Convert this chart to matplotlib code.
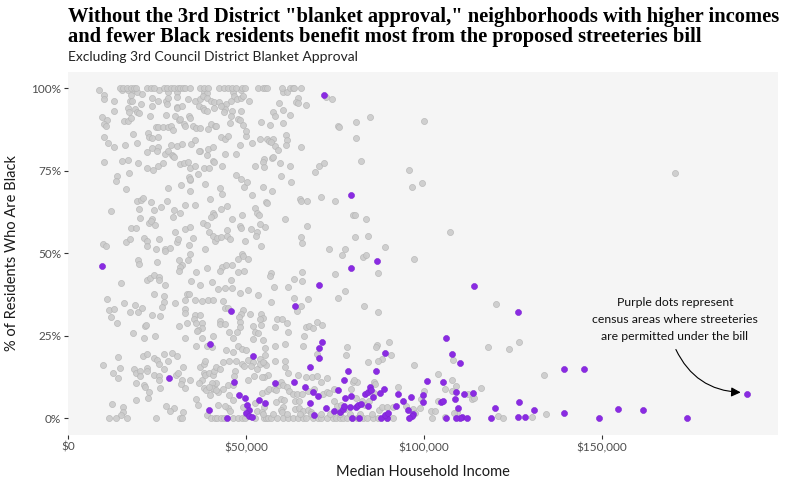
import matplotlib
import matplotlib.pyplot as plt
from matplotlib.ticker import FuncFormatter

plt.switch_backend('agg')

# median household income ($ thousands) / % Black residents

# census areas sitting at 100% Black
gray_full_inc = [14.6, 15.5, 16.5, 17.7, 18.5, 19.1, 22.1, 23.2, 24.2, 27.0, 27.7, 28.9, 29.8,
                 31.0, 31.6, 32.2, 32.9, 34.4, 37.1, 38.2, 39.4, 42.5, 43.8, 45.0, 46.2, 47.2,
                 49.0, 49.7, 53.4, 54.7, 55.3, 55.8, 60.2, 62.5, 63.1, 63.6, 65.5]

# census areas at 0%
gray_zero_inc = [11.6, 13.6, 16.7, 24.8, 31.5, 32.1, 40.1, 41.4, 41.9, 43.1, 43.9, 46.4, 47.8,
                 49.0, 49.8, 52.6, 55.1, 55.7, 56.3, 57.1, 58.6, 60.5, 61.9, 63.3, 64.7, 66.1,
                 67.0, 68.9, 70.3, 71.2, 72.8, 74.5, 75.4, 76.4, 77.3, 78.3, 79.7, 81.1, 82.9,
                 83.9, 85.7, 87.1, 89.5, 91.4, 102.3]

# census areas around 1.5%
gray_low_inc = [54.9, 57.7, 61.4, 65.2, 68.4, 71.2, 73.6, 76.4, 79.2, 82.0, 85.3]

gray_upper_left = [
    (8.8, 99.4), (10.2, 98.0), (15.3, 99.4), (16.9, 99.4), (18.2, 99.4), (19.4, 98.8), (20.7, 98.3),
    (25.5, 99.4), (28.2, 98.8), (30.7, 99.0), (38.2, 98.8), (39.0, 98.6), (46.4, 99.0), (48.6, 99.4),
    (10.2, 96.8), (13.0, 96.3), (17.6, 98.0), (17.4, 96.3), (17.9, 96.2), (20.5, 95.3), (23.5, 97.0),
    (25.4, 96.3), (27.5, 96.3), (28.2, 97.0), (27.9, 95.3), (30.7, 97.4), (30.5, 94.3), (33.8, 96.8),
    (35.8, 96.1), (37.1, 96.8), (38.0, 97.6), (39.0, 97.0), (40.1, 96.3), (41.1, 96.0), (42.5, 95.8),
    (43.6, 94.8), (44.4, 95.3), (45.7, 96.3), (46.6, 97.6), (47.4, 96.8), (48.5, 97.0), (49.2, 97.6),
    (50.9, 96.3), (13.0, 93.3), (16.9, 94.0), (17.0, 92.8), (18.8, 93.8), (19.5, 92.8), (20.0, 92.6),
    (23.5, 94.8), (27.5, 92.0), (30.7, 94.0), (31.9, 94.6), (36.9, 94.6), (37.8, 94.0), (38.2, 93.4),
    (39.0, 93.3), (41.1, 94.1), (44.1, 93.8), (43.9, 93.0), (46.0, 93.3), (48.6, 93.3), (42.9, 94.6),
    (9.6, 91.4), (11.0, 90.3), (10.1, 89.3), (10.7, 88.5), (15.8, 90.0), (16.9, 90.0), (17.6, 91.0),
    (23.0, 91.7), (24.7, 88.4), (25.4, 88.4), (26.8, 88.4), (28.2, 88.4), (28.9, 88.5), (29.6, 87.5),
    (30.2, 91.6), (31.2, 90.3), (31.6, 90.8), (32.6, 89.3), (32.8, 88.5), (34.1, 91.7), (34.3, 91.0),
    (35.2, 88.6), (36.1, 88.1), (37.1, 88.0), (39.2, 87.8), (40.3, 89.3), (41.3, 88.5), (41.7, 88.5),
    (45.5, 89.6), (45.8, 91.7), (47.8, 90.6), (48.3, 90.3), (49.2, 88.9),
    (18.2, 86.2), (10.2, 85.4), (11.3, 83.5), (13.0, 82.4), (16.1, 82.9), (19.3, 83.5), (22.6, 86.5),
    (22.8, 85.2), (23.5, 84.9), (25.4, 85.4), (23.5, 81.9), (25.2, 82.4), (28.9, 82.9), (30.7, 82.7),
    (31.9, 83.2), (34.5, 83.2), (35.7, 84.5), (37.1, 81.1), (39.4, 81.7), (40.8, 82.2), (43.1, 85.4),
    (44.1, 84.7), (45.0, 85.6), (48.4, 82.9), (49.9, 85.7), (50.0, 87.2), (51.6, 83.6),
    (10.2, 77.8), (15.3, 78.0), (16.9, 78.3), (19.7, 77.4), (22.1, 80.8), (22.1, 76.0), (24.0, 75.4),
    (24.9, 81.0), (25.4, 76.4), (26.8, 77.3), (27.2, 80.2), (28.2, 80.9), (29.1, 79.9), (29.6, 79.5),
    (29.9, 79.2), (31.4, 77.1), (32.6, 77.4), (33.8, 77.8), (34.4, 76.0), (35.7, 76.4), (36.9, 81.1),
    (38.3, 76.0), (39.0, 79.7), (39.6, 76.0), (40.8, 77.9), (41.0, 77.8), (43.4, 76.4), (44.1, 80.2),
    (47.2, 80.2), (52.5, 76.6),
    (13.9, 73.6), (13.4, 72.1), (17.2, 74.4), (16.4, 69.6), (28.2, 69.9), (31.7, 70.6), (34.0, 73.1),
    (34.2, 72.4), (34.4, 72.6), (36.4, 74.1), (38.6, 71.1), (42.8, 69.9), (43.3, 68.1), (34.3, 68.9),
    (47.2, 73.8), (48.6, 72.6), (49.5, 70.1), (50.4, 71.6), (51.8, 67.8),
    (12.1, 62.9), (19.5, 66.0), (20.5, 66.3), (21.1, 66.7), (20.0, 63.5), (23.4, 65.6), (24.2, 63.2),
    (26.0, 64.1), (27.7, 65.9), (29.9, 63.2), (31.6, 62.3), (33.0, 64.8), (35.8, 64.8), (39.9, 66.5),
    (40.7, 62.4), (41.0, 61.7), (40.3, 61.1), (42.9, 63.5), (44.8, 64.5), (46.1, 60.5), (48.8, 61.5),
    (52.6, 63.7), (53.0, 62.3), (53.7, 61.7),
    (20.3, 60.8), (17.7, 57.7), (19.2, 57.7), (22.8, 59.2), (23.6, 60.5), (23.4, 59.9), (24.5, 58.7),
    (29.6, 61.1), (30.0, 56.6), (32.8, 57.4), (34.3, 57.9), (38.0, 59.2), (39.1, 58.7), (39.7, 56.6),
    (44.6, 57.2), (48.3, 58.3), (48.6, 57.7), (51.4, 57.4), (53.0, 56.5),
    (9.7, 52.9), (10.8, 52.3), (16.2, 53.4), (17.5, 54.4), (21.3, 54.7), (22.1, 53.8), (22.3, 52.3),
    (25.6, 54.4), (24.8, 51.4), (27.3, 51.2), (28.8, 51.7), (30.5, 53.4), (31.0, 54.4), (33.9, 52.6),
    (35.2, 54.7), (38.6, 51.4), (41.2, 53.8), (40.8, 55.4), (42.0, 54.8), (42.9, 55.1), (44.8, 55.4),
    (45.5, 54.4), (49.8, 53.8), (52.7, 55.4),
]

gray_upper_mid = [
    (60.5, 99.0), (61.4, 99.0), (72.6, 97.4), (74.2, 96.8), (64.7, 97.1), (64.2, 95.9), (64.7, 95.6),
    (66.9, 95.0), (59.3, 95.6), (57.7, 92.9), (58.2, 91.7), (60.5, 93.5), (62.4, 92.0), (54.3, 89.9),
    (56.8, 88.9), (60.5, 89.6), (75.9, 88.6), (76.2, 88.2), (81.0, 89.9), (84.9, 91.4), (100.1, 90.2),
    (81.0, 85.0), (61.3, 85.9), (61.6, 84.4), (61.3, 82.9), (54.0, 84.7), (56.0, 84.7), (56.5, 84.1),
    (57.7, 84.7), (57.1, 83.8), (58.2, 82.6), (59.1, 81.4), (65.5, 82.3), (55.1, 78.7), (54.9, 77.7),
    (55.1, 76.2), (57.4, 79.0), (57.7, 79.1), (59.6, 77.4), (62.4, 76.5), (70.6, 76.5), (72.0, 77.4),
    (69.5, 74.7), (82.4, 78.0), (59.9, 73.5), (62.7, 71.7), (54.9, 70.2), (57.4, 69.0), (95.9, 75.3),
    (99.5, 71.4), (96.7, 70.2), (65.2, 66.5), (65.5, 65.9), (67.2, 65.9), (71.1, 67.1), (75.1, 65.9),
    (55.7, 65.6), (56.0, 65.3), (61.0, 60.5), (67.2, 58.3), (80.1, 61.7), (80.7, 61.7), (83.8, 60.5),
    (55.4, 58.0), (54.0, 59.0), (65.5, 55.0), (65.8, 53.2), (80.7, 55.0), (84.3, 55.3), (54.3, 52.3),
    (73.4, 51.4), (77.9, 51.4), (89.1, 52.0),
]

gray_lower_left = [
    (34.4, 49.9), (49.0, 49.9), (27.3, 50.8), (19.7, 48.1), (20.0, 46.8), (25.1, 47.5), (31.3, 48.1),
    (33.8, 48.1), (32.1, 46.5), (31.6, 45.9), (31.1, 44.7), (36.0, 44.4), (39.0, 45.6), (43.3, 45.9),
    (44.3, 46.5), (42.8, 44.7), (46.1, 46.5), (47.8, 44.4), (49.5, 44.7), (47.8, 48.4), (49.2, 49.3),
    (50.6, 48.4), (15.0, 41.1), (22.3, 42.0), (23.1, 42.6), (24.2, 43.5), (25.6, 42.9), (25.6, 42.0),
    (27.3, 40.5), (34.6, 41.7), (37.2, 40.5), (40.5, 41.4), (45.9, 42.0), (42.2, 39.3), (44.2, 39.6),
    (46.1, 39.6), (48.4, 38.1), (50.6, 39.0), (53.4, 37.5), (11.0, 36.2), (24.2, 37.8), (27.0, 37.1),
    (27.0, 35.3), (30.1, 35.0), (33.5, 37.8), (34.1, 37.8), (33.0, 35.9), (35.8, 35.9), (37.7, 35.6),
    (39.4, 35.9), (40.8, 35.9), (43.6, 35.6), (15.6, 35.0), (18.7, 34.4), (11.6, 32.9), (13.0, 33.2),
    (17.3, 32.3), (19.8, 32.3), (20.7, 33.5), (12.2, 30.8), (23.7, 31.4), (25.9, 31.1), (26.5, 33.8),
    (33.0, 33.2), (33.0, 32.0), (35.8, 31.4), (37.2, 31.4), (35.5, 30.2), (36.0, 29.0), (44.2, 33.5),
    (45.0, 33.5), (49.2, 32.9), (51.2, 31.7), (48.6, 31.7), (48.1, 30.8), (42.8, 29.6), (42.8, 28.7),
    (44.2, 28.7), (48.4, 29.3), (48.4, 27.8), (13.7, 29.0), (31.3, 28.1), (33.5, 29.0), (37.7, 29.0),
    (37.7, 27.4), (36.6, 26.8), (36.3, 26.5), (21.7, 28.1), (22.0, 28.4), (18.3, 25.9), (21.4, 24.4),
    (24.5, 25.0), (33.0, 24.4), (37.7, 24.4), (40.8, 25.0), (45.3, 26.2), (46.4, 24.4), (47.5, 26.2),
    (52.0, 28.1), (52.6, 26.2), (53.4, 25.9), (52.0, 24.1), (36.0, 22.0), (39.0, 22.1), (40.5, 21.7),
    (44.3, 20.8), (47.8, 22.0), (49.0, 21.1), (50.0, 20.8), (46.4, 20.2), (21.2, 19.0), (22.3, 19.6),
    (24.2, 18.4), (25.1, 17.8), (25.6, 16.5), (27.0, 19.6), (28.2, 17.5), (29.3, 19.9), (30.7, 19.0),
    (14.1, 18.7), (9.9, 16.2), (12.7, 13.8), (14.7, 15.3), (14.1, 12.3), (18.6, 15.0), (19.2, 13.8),
    (20.3, 14.4), (20.3, 12.9), (22.3, 15.3), (22.3, 14.4), (24.2, 13.2), (25.6, 12.9), (25.6, 11.7),
    (25.9, 9.3), (27.0, 15.0), (30.4, 13.2), (31.0, 13.8), (32.4, 15.6), (32.1, 11.7), (33.0, 9.3),
    (31.8, 10.5), (34.3, 11.7), (37.2, 15.6), (38.1, 16.5), (38.4, 17.5), (38.3, 13.8), (37.7, 11.7),
    (38.6, 13.2), (36.9, 10.8), (38.1, 9.3), (38.9, 8.7), (39.7, 13.8), (40.8, 13.2), (41.1, 14.4),
    (41.7, 15.6), (42.8, 15.0), (43.6, 17.1), (45.3, 17.5), (47.2, 17.5), (47.0, 14.4), (46.7, 12.9),
    (49.0, 16.5), (49.5, 15.9), (50.6, 17.8), (52.0, 17.1), (51.5, 15.9), (53.0, 15.0), (52.3, 12.9),
    (50.6, 11.7), (19.2, 10.8), (21.4, 10.2), (21.7, 9.6), (22.8, 8.1), (22.6, 6.2), (19.2, 5.6),
    (12.4, 4.4), (15.5, 3.5), (15.5, 2.0), (15.0, 1.1), (27.6, 3.8), (29.9, 3.2), (28.7, 2.3),
    (32.4, 2.0), (36.1, 5.9), (36.4, 4.1), (40.0, 7.2), (40.8, 9.0), (41.1, 10.2), (41.6, 10.8),
    (40.5, 10.8), (40.5, 9.3), (39.7, 9.6), (43.6, 9.0), (45.0, 10.2), (46.4, 10.2), (45.3, 7.2),
    (42.1, 8.1), (41.5, 8.7), (46.4, 5.6), (45.0, 3.2), (45.6, 2.3), (42.2, 4.1), (44.2, 3.8),
    (49.2, 3.5), (52.6, 4.7), (53.2, 2.3), (39.0, 1.2),
]

gray_lower_mid = [
    (83.0, 49.0), (83.8, 49.6), (77.0, 49.6), (97.3, 48.4), (57.1, 44.1), (56.8, 43.2), (65.8, 44.4),
    (65.8, 41.7), (63.6, 42.3), (75.1, 43.8), (87.1, 44.1), (57.9, 39.7), (61.9, 39.7), (57.1, 35.3),
    (63.6, 36.5), (67.5, 36.2), (65.5, 34.1), (64.4, 32.6), (77.9, 38.7), (75.9, 36.5), (83.2, 34.1),
    (87.1, 32.3), (54.3, 31.7), (54.9, 30.5), (54.0, 30.2), (58.8, 30.2), (60.2, 30.2), (58.2, 27.8),
    (61.6, 29.0), (61.9, 26.2), (66.9, 27.8), (67.8, 28.1), (68.9, 27.4), (70.0, 29.3), (71.4, 28.4),
    (54.3, 28.4), (66.4, 25.0), (55.4, 21.4), (54.9, 23.8), (58.2, 22.0), (61.0, 22.5), (66.1, 22.0),
    (70.0, 19.6), (78.4, 21.7), (78.2, 19.3), (86.9, 22.3), (86.6, 21.7), (90.2, 23.2), (90.8, 19.3),
    (88.3, 18.1), (87.1, 17.5), (84.3, 17.2), (97.3, 16.2), (104.0, 13.5), (54.0, 18.1), (55.4, 19.3),
    (54.0, 16.5), (55.1, 16.8), (55.7, 16.2), (54.9, 17.1), (58.2, 17.5), (61.0, 17.5), (61.0, 15.6),
    (61.9, 13.8), (64.7, 13.2), (56.3, 13.2), (55.1, 12.6), (54.6, 12.6), (66.9, 12.6), (68.6, 12.6),
    (70.0, 12.9), (71.1, 11.1), (72.8, 12.3), (80.1, 11.1), (81.2, 11.1), (80.4, 11.7), (86.0, 11.1),
    (86.3, 10.5), (92.8, 9.6), (100.1, 8.4), (104.0, 5.3), (54.6, 7.8), (56.0, 8.4), (56.5, 9.0),
    (57.9, 9.0), (58.5, 8.7), (59.3, 10.2), (59.9, 11.1), (60.5, 10.2), (61.6, 9.6), (62.2, 8.4),
    (58.5, 5.0), (59.9, 5.9), (60.8, 5.6), (60.5, 3.5), (59.9, 2.6), (60.2, 2.0), (55.1, 3.5),
    (54.6, 2.0), (63.3, 7.5), (63.8, 5.3), (64.4, 7.5), (65.0, 5.3), (65.8, 7.5), (63.8, 2.9),
    (65.0, 3.2), (66.1, 2.3), (67.5, 2.6), (68.3, 2.0), (67.5, 8.4), (69.2, 9.0), (71.7, 7.5),
    (72.8, 8.1), (73.4, 7.8), (74.8, 9.0), (74.8, 5.3), (75.6, 3.8), (76.8, 4.1), (77.9, 2.9),
    (79.6, 9.0), (81.0, 6.2), (82.6, 5.3), (83.5, 4.1), (84.6, 5.3), (86.0, 7.8), (87.4, 2.6),
    (88.3, 3.5), (89.7, 3.5), (91.4, 3.5), (95.0, 3.8), (97.0, 2.9), (97.5, 1.7), (98.9, 3.2),
    (99.2, 5.9), (102.0, 2.3), (103.1, 2.3),
]

gray_right = [
    (170.6, 74.4), (107.4, 56.5), (120.3, 34.7), (118.1, 21.7), (124.0, 21.1), (126.8, 23.2),
    (108.2, 17.7), (108.0, 11.7), (106.0, 9.0), (109.1, 9.9), (108.0, 8.4), (116.1, 9.3),
    (112.5, 7.4), (113.6, 5.9), (114.2, 6.2), (133.8, 13.2), (109.4, 2.0), (108.5, 1.7),
    (106.0, 0.5), (120.9, 0.8), (122.3, 0.2), (130.4, 0.5), (134.4, 1.4),
]

# areas where streeteries are permitted
purple_points = [
    (72.0, 98.1), (79.6, 67.8), (9.6, 46.3), (45.9, 32.6), (40.0, 22.6), (52.1, 19.0), (28.5, 12.3),
    (46.7, 11.1), (48.1, 7.2), (49.8, 6.3), (50.4, 4.2), (39.7, 2.6), (50.9, 2.6), (50.0, 1.7),
    (50.8, 0.7), (51.7, 0.5), (44.8, 0.2), (53.8, 5.7), (55.4, 4.8),
    (86.9, 47.8), (79.6, 45.7), (70.6, 40.5), (63.9, 34.2), (71.5, 23.2), (70.6, 21.4), (70.6, 18.4),
    (89.2, 19.9), (68.1, 15.7), (78.8, 14.5), (86.6, 14.5), (58.3, 10.8), (63.6, 11.1), (77.6, 11.7),
    (101.0, 11.4), (66.7, 9.6), (68.9, 8.1), (70.3, 6.9), (76.0, 8.7), (77.9, 6.3), (79.6, 6.9),
    (83.5, 7.5), (84.4, 8.1), (84.9, 9.6), (85.2, 8.7), (87.8, 7.8), (88.9, 9.0), (85.8, 6.6),
    (92.8, 7.5), (96.5, 6.6), (94.2, 5.4), (99.8, 7.2), (99.8, 5.1), (92.3, 3.8), (95.6, 2.6),
    (97.0, 1.4), (96.7, 0.8), (95.9, 0.0), (68.1, 4.8), (72.6, 3.2), (74.8, 2.3), (76.5, 2.0),
    (77.4, 2.9), (77.6, 3.8), (79.3, 3.5), (81.0, 3.5), (81.6, 4.2), (82.4, 4.5), (84.4, 3.8),
    (69.2, 1.1), (79.9, 0.2), (81.9, 0.0), (88.0, 0.0), (89.7, 0.0), (89.2, 1.1), (90.0, 1.7),
    (114.2, 40.2), (126.3, 32.3), (106.3, 24.5), (108.0, 19.6), (110.2, 16.9), (139.5, 15.1),
    (145.1, 15.1), (105.5, 11.1), (109.1, 8.1), (108.8, 6.0), (111.4, 7.5), (113.9, 7.8),
    (104.9, 5.1), (105.5, 5.4), (126.8, 5.1), (109.7, 3.2), (120.1, 3.2), (131.0, 2.6),
    (154.4, 2.9), (161.7, 2.6), (139.5, 1.7), (110.8, 0.5), (110.2, 0.0), (106.3, 0.0),
    (109.1, 0.0), (112.2, 0.0), (118.9, 0.0), (126.3, 0.5), (128.5, 0.5), (149.3, 0.0),
    (174.0, 0.0), (190.9, 7.5),
]

title = ('Without the 3rd District "blanket approval," neighborhoods with higher incomes\n'
         'and fewer Black residents benefit most from the proposed streeteries bill')
subtitle = 'Excluding 3rd Council District Blanket Approval'
note = 'Purple dots represent\ncensus areas where streeteries\nare permitted under the bill'

gray_pairs = gray_upper_left + gray_upper_mid + gray_lower_left + gray_lower_mid + gray_right
gray_x = [p[0] for p in gray_pairs] + gray_full_inc + gray_zero_inc + gray_low_inc
gray_y = ([p[1] for p in gray_pairs] + [100.0] * len(gray_full_inc)
          + [0.0] * len(gray_zero_inc) + [1.5] * len(gray_low_inc))
purple_x = [p[0] for p in purple_points]
purple_y = [p[1] for p in purple_points]

sans = ['Lato', 'DejaVu Sans']

fig = plt.figure(figsize=(7.87, 4.86), dpi=100)
ax = fig.add_axes([0.0864, 0.105, 0.9022, 0.747])
ax.set_facecolor('#f5f5f5')
for s in ax.spines.values():
    s.set_visible(False)

ax.scatter(gray_x, gray_y, s=19, c='#cbcbcb', edgecolors='#b6b6b6', linewidths=0.5,
           alpha=0.9, zorder=2)
ax.scatter(purple_x, purple_y, s=19, c='#8a2be2', edgecolors='#7d24d4', linewidths=0.4, zorder=3)

ax.set_xlim(0, 199.5)
ax.set_ylim(-5, 105)
ax.set_xticks([0, 50, 100, 150])
ax.set_yticks([0, 25, 50, 75, 100])
ax.xaxis.set_major_formatter(FuncFormatter(lambda v, p: '${:,.0f}'.format(v * 1000)))
ax.yaxis.set_major_formatter(FuncFormatter(lambda v, p: '{:.0f}%'.format(v)))
ax.tick_params(length=3, width=0.8, color='#333333', labelsize=8.5, labelcolor='#4d4d4d', pad=2)
for lab in ax.get_xticklabels() + ax.get_yticklabels():
    lab.set_family(sans)

ax.set_xlabel('Median Household Income', fontsize=10.5, family=sans, color='#1a1a1a', labelpad=9)
ax.set_ylabel('% of Residents Who Are Black', fontsize=10.5, family=sans, color='#1a1a1a', labelpad=9)

ax.text(170.5, 30.0, note, ha='center', va='center', fontsize=8.8, family=sans,
        color='#111111', linespacing=1.7)
ax.annotate('', xy=(189.0, 7.9), xytext=(170.8, 20.9),
            arrowprops=dict(arrowstyle='-|>', color='black', lw=0.8, mutation_scale=14,
                            connectionstyle='arc3,rad=0.3', shrinkA=0, shrinkB=0))

fig.text(0.0864, 0.986, title, ha='left', va='top', fontsize=14.8, fontweight='bold',
         family=['Liberation Serif', 'DejaVu Serif'], linespacing=1.0)
fig.text(0.0864, 1 - 57 / 486, subtitle, ha='left', va='center', fontsize=10,
         family=sans, color='#222222')

fig.savefig('out.png', dpi=100)
plt.close(fig)
